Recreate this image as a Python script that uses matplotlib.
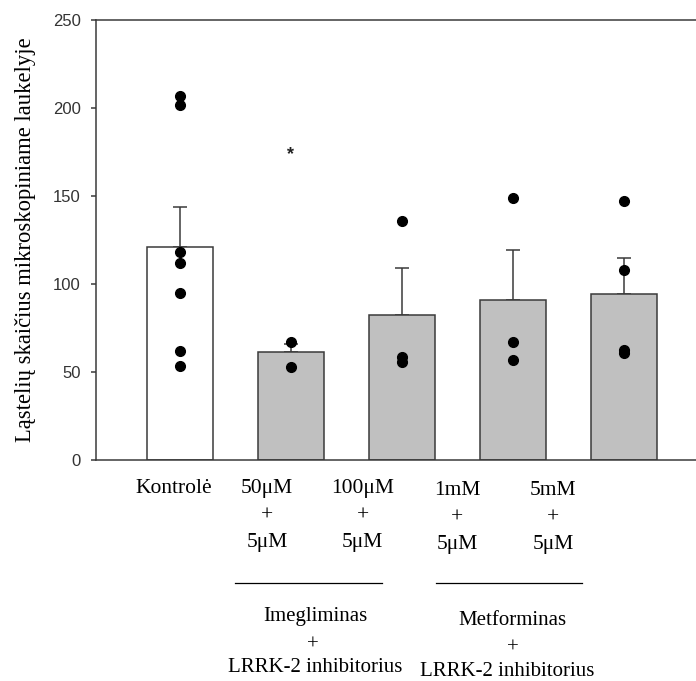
import numpy as np
import matplotlib
matplotlib.use('Agg')
import matplotlib.pyplot as plt
from matplotlib.lines import Line2D

# Data
groups = ['Kontrolė', '50μM\n+\n5μM', '100μM\n+\n5μM', '1mM\n+\n5μM', '5mM\n+\n5μM']
means = [120.6, 60.9, 82.3, 90.6, 94.0]
sem = [22.9, 5.0, 26.5, 28.4, 20.7]
points = [
    [206.5, 201.5, 118.0, 111.5, 94.8, 61.8, 53.3],
    [66.6, 52.4],
    [135.3, 58.5, 55.5],
    [148.6, 66.8, 56.7],
    [146.7, 107.7, 62.5, 60.5],
]
bar_colors = ['white', '#c0c0c0', '#c0c0c0', '#c0c0c0', '#c0c0c0']
star_value = 175
drug_names = ['Imegliminas', 'Metforminas']
inhibitor = 'LRRK-2 inhibitorius'

W, H = 696, 681
fig = plt.figure(figsize=(W / 100, H / 100), dpi=100)
ax = fig.add_axes([96 / W, 1 - 459.5 / H, 1 - 96 / W, 440 / H])

x = np.arange(len(means))
edge = '#3a3a3a'
ax.bar(x, means, width=0.6, color=bar_colors, edgecolor=edge, linewidth=1.1, zorder=2)
ax.errorbar(x, means, yerr=[np.zeros(len(sem)), sem], fmt='none', ecolor=edge,
            elinewidth=1.1, capsize=4.7, capthick=1.1, zorder=1)
for i, pts in enumerate(points):
    ax.plot([x[i]] * len(pts), pts, 'o', color='black', ms=7, zorder=3)

ax.text(x[1], star_value - 1.5, '*', ha='center', va='center', fontsize=13,
        color='#222', family='Liberation Sans', fontweight='bold')

ax.set_xlim(-0.757, 4.65)
ax.set_ylim(0, 250)
ax.set_yticks([0, 50, 100, 150, 200, 250])
ax.set_xticks([])
ax.spines['right'].set_visible(False)
for s in ['left', 'top', 'bottom']:
    ax.spines[s].set_color(edge)
    ax.spines[s].set_linewidth(1.1)
ax.tick_params(axis='y', direction='out', length=3.6, width=1.1, color=edge,
               labelsize=12, labelcolor='#333', pad=7.5)
for lbl in ax.get_yticklabels():
    lbl.set_family('Liberation Sans')

serif = 'Liberation Serif'
fs = 15.5
ax.set_ylabel('Ląstelių skaičius mikroskopiniame laukelyje', family=serif, fontsize=16.3)
ax.yaxis.set_label_coords(-(96 - 36) / 600, 0.5)

# group tick labels (pixel positions from reference)
label_x = [174, 267, 362.5, 457, 553]
label_top = [479, 479, 479, 481, 481]
for lx, ly, g in zip(label_x, label_top, groups):
    fig.text(lx / W, 1 - ly / H, g, ha='center', va='top', family=serif,
             fontsize=fs, linespacing=1.58)

# underlines and group names (baselines in pixels)
for x0, x1 in [(235, 382), (436, 582)]:
    fig.add_artist(Line2D([x0 / W, x1 / W], [1 - 583 / H, 1 - 583 / H],
                          color='black', lw=0.9, transform=fig.transFigure))
group_x = [(315, 313, 315), (512, 513, 507)]
group_base = [(621.5, 650, 672.5), (625, 653, 676.5)]
for name, gx, gy in zip(drug_names, group_x, group_base):
    for txt, tx, ty in zip([name, '+', inhibitor], gx, gy):
        fig.text(tx / W, 1 - ty / H, txt, ha='center', va='baseline',
                 family=serif, fontsize=15)

fig.savefig('out.png', dpi=100)
